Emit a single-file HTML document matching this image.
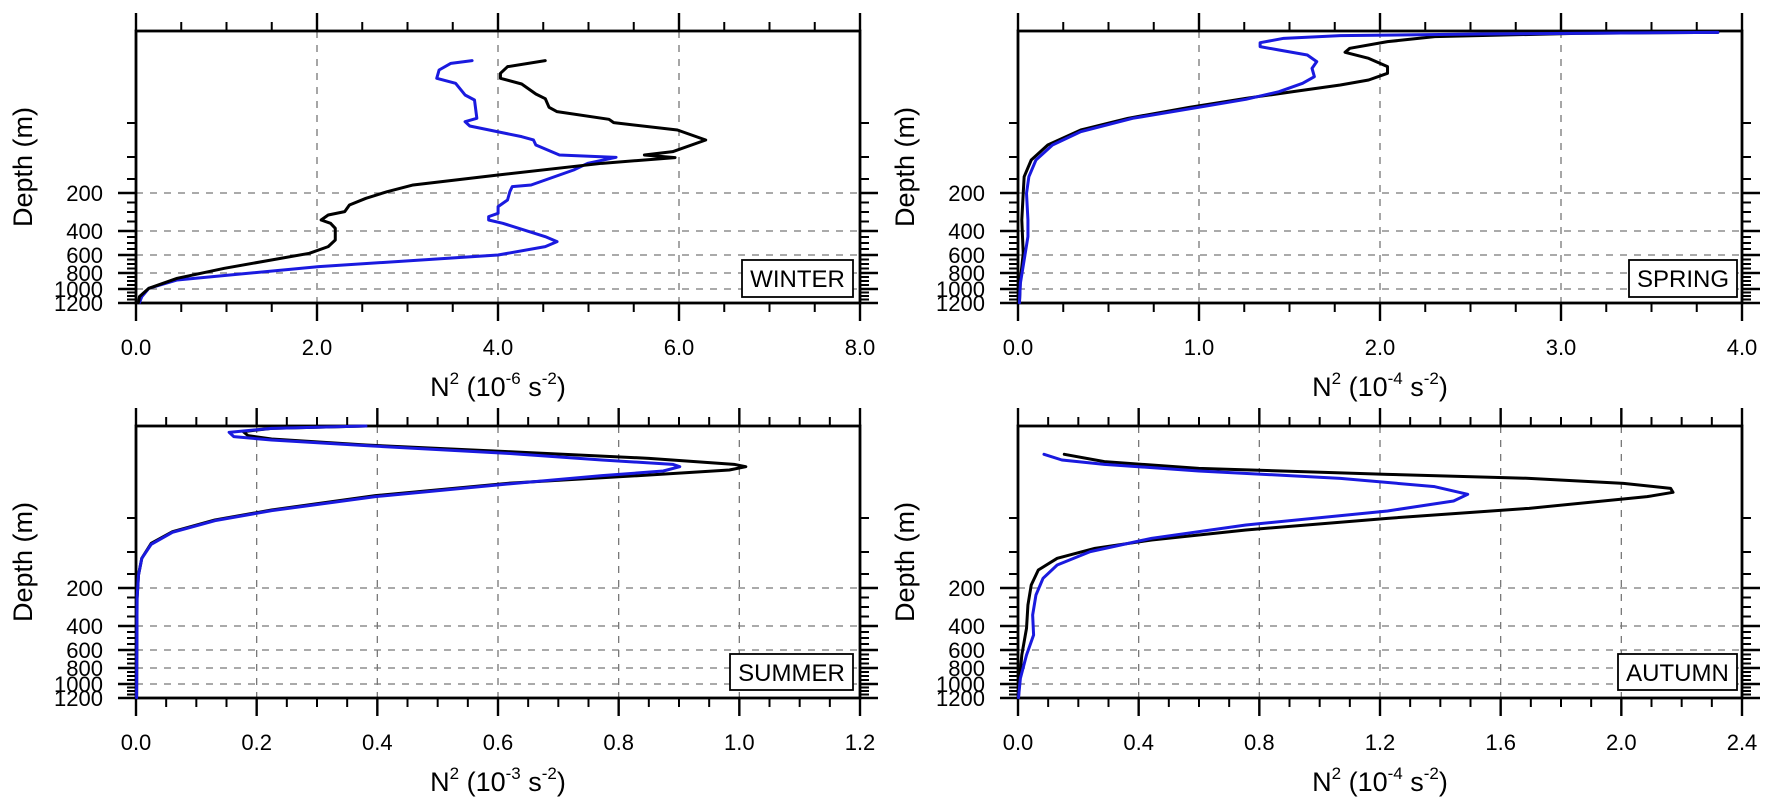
<!DOCTYPE html>
<html><head><meta charset="utf-8"><style>
html,body{margin:0;padding:0;background:#fff;}
svg{display:block;font-family:"Liberation Sans",Arial,sans-serif;}
</style></head><body>
<svg width="1772" height="804" viewBox="0 0 1772 804" xmlns="http://www.w3.org/2000/svg">
<defs>
<g id="common">
  <path d="M0 162H724M0 200H724M0 224H724M0 242H724M0 258H724" stroke="#777" stroke-width="1.3" stroke-dasharray="7,7" fill="none"/>
  <path d="M0 162h-18M0 200h-18M0 224h-18M0 242h-18M0 258h-18M0 272h-18M724 162h18M724 200h18M724 224h18M724 242h18M724 258h18M724 272h18" stroke="#000" stroke-width="2.4"/>
  <path d="M0 92h-9M0 126h-9M0 148h-9M0 171.5h-9M0 181h-9M0 190.5h-9M0 206h-9M0 212h-9M0 218h-9M0 228.5h-9M0 233h-9M0 237.5h-9M0 246h-9M0 250h-9M0 254h-9M0 261.5h-9M0 265h-9M0 268.5h-9M724 92h9M724 126h9M724 148h9M724 171.5h9M724 181h9M724 190.5h9M724 206h9M724 212h9M724 218h9M724 228.5h9M724 233h9M724 237.5h9M724 246h9M724 250h9M724 254h9M724 261.5h9M724 265h9M724 268.5h9" stroke="#000" stroke-width="2"/>
</g>
<g id="frameA">
  <path d="M181 0V272M362 0V272M543 0V272" stroke="#777" stroke-width="1.3" stroke-dasharray="7,7" fill="none"/>
  <use href="#common"/>
  <path d="M0 0v-18M181 0v-18M362 0v-18M543 0v-18M724 0v-18M0 272v18M181 272v18M362 272v18M543 272v18M724 272v18" stroke="#000" stroke-width="2.4"/>
  <path d="M45.25 0v-9M90.5 0v-9M135.75 0v-9M226.25 0v-9M271.5 0v-9M316.75 0v-9M407.25 0v-9M452.5 0v-9M497.75 0v-9M588.25 0v-9M633.5 0v-9M678.75 0v-9M45.25 272v9M90.5 272v9M135.75 272v9M226.25 272v9M271.5 272v9M316.75 272v9M407.25 272v9M452.5 272v9M497.75 272v9M588.25 272v9M633.5 272v9M678.75 272v9" stroke="#000" stroke-width="2"/>
  <rect x="0" y="0" width="724" height="272" fill="none" stroke="#000" stroke-width="2.8"/>
</g>
<g id="frameB">
  <path d="M120.67 0V272M241.33 0V272M362 0V272M482.67 0V272M603.33 0V272" stroke="#777" stroke-width="1.3" stroke-dasharray="7,7" fill="none"/>
  <use href="#common"/>
  <path d="M0 0v-18M120.67 0v-18M241.33 0v-18M362 0v-18M482.67 0v-18M603.33 0v-18M724 0v-18M0 272v18M120.67 272v18M241.33 272v18M362 272v18M482.67 272v18M603.33 272v18M724 272v18" stroke="#000" stroke-width="2.4"/>
  <path d="M30.17 0v-9M60.33 0v-9M90.5 0v-9M150.83 0v-9M181 0v-9M211.17 0v-9M271.5 0v-9M301.67 0v-9M331.83 0v-9M392.17 0v-9M422.33 0v-9M452.5 0v-9M512.83 0v-9M543 0v-9M573.17 0v-9M633.5 0v-9M663.67 0v-9M693.83 0v-9M30.17 272v9M60.33 272v9M90.5 272v9M150.83 272v9M181 272v9M211.17 272v9M271.5 272v9M301.67 272v9M331.83 272v9M392.17 272v9M422.33 272v9M452.5 272v9M512.83 272v9M543 272v9M573.17 272v9M633.5 272v9M663.67 272v9M693.83 272v9" stroke="#000" stroke-width="2"/>
  <rect x="0" y="0" width="724" height="272" fill="none" stroke="#000" stroke-width="2.8"/>
</g>
<g id="ylab" font-size="22" text-anchor="end">
  <text x="-33" y="170">200</text>
  <text x="-33" y="208">400</text>
  <text x="-33" y="232">600</text>
  <text x="-33" y="250">800</text>
  <text x="-33" y="266">1000</text>
  <text x="-33" y="280">1200</text>
  <text transform="translate(-104,136) rotate(-90)" font-size="27" text-anchor="middle">Depth (m)</text>
</g>
</defs>

<g transform="translate(136,31)"><use href="#frameA"/><use href="#ylab"/></g>
<g transform="translate(1018,31)"><use href="#frameA"/><use href="#ylab"/></g>
<g transform="translate(136,426)"><use href="#frameB"/><use href="#ylab"/></g>
<g transform="translate(1018,426)"><use href="#frameB"/><use href="#ylab"/></g>

<g font-size="22" text-anchor="middle">
  <text x="136" y="355">0.0</text><text x="317" y="355">2.0</text><text x="498" y="355">4.0</text><text x="679" y="355">6.0</text><text x="860" y="355">8.0</text>
  <text x="1018" y="355">0.0</text><text x="1199" y="355">1.0</text><text x="1380" y="355">2.0</text><text x="1561" y="355">3.0</text><text x="1742" y="355">4.0</text>
  <text x="136" y="750">0.0</text><text x="256.7" y="750">0.2</text><text x="377.3" y="750">0.4</text><text x="498" y="750">0.6</text><text x="618.7" y="750">0.8</text><text x="739.3" y="750">1.0</text><text x="860" y="750">1.2</text>
  <text x="1018" y="750">0.0</text><text x="1138.7" y="750">0.4</text><text x="1259.3" y="750">0.8</text><text x="1380" y="750">1.2</text><text x="1500.7" y="750">1.6</text><text x="1621.3" y="750">2.0</text><text x="1742" y="750">2.4</text>
</g>
<g font-size="27" text-anchor="middle">
  <text x="498" y="396">N<tspan font-size="17" dy="-12">2</tspan><tspan dy="12"> (10</tspan><tspan font-size="17" dy="-12">-6</tspan><tspan dy="12">  s</tspan><tspan font-size="17" dy="-12">-2</tspan><tspan dy="12">)</tspan></text>
  <text x="1380" y="396">N<tspan font-size="17" dy="-12">2</tspan><tspan dy="12"> (10</tspan><tspan font-size="17" dy="-12">-4</tspan><tspan dy="12">  s</tspan><tspan font-size="17" dy="-12">-2</tspan><tspan dy="12">)</tspan></text>
  <text x="498" y="791">N<tspan font-size="17" dy="-12">2</tspan><tspan dy="12"> (10</tspan><tspan font-size="17" dy="-12">-3</tspan><tspan dy="12">  s</tspan><tspan font-size="17" dy="-12">-2</tspan><tspan dy="12">)</tspan></text>
  <text x="1380" y="791">N<tspan font-size="17" dy="-12">2</tspan><tspan dy="12"> (10</tspan><tspan font-size="17" dy="-12">-4</tspan><tspan dy="12">  s</tspan><tspan font-size="17" dy="-12">-2</tspan><tspan dy="12">)</tspan></text>
</g>

<g font-size="24" text-anchor="middle">
  <rect x="742" y="260" width="111" height="37" fill="#fff" stroke="#000" stroke-width="1.8"/><text x="797.5" y="287">WINTER</text>
  <rect x="1629" y="260" width="108" height="37" fill="#fff" stroke="#000" stroke-width="1.8"/><text x="1683" y="287">SPRING</text>
  <rect x="730" y="654" width="123" height="36" fill="#fff" stroke="#000" stroke-width="1.8"/><text x="791.5" y="681">SUMMER</text>
  <rect x="1618" y="654" width="119" height="36" fill="#fff" stroke="#000" stroke-width="1.8"/><text x="1677.5" y="681">AUTUMN</text>
</g>

<g fill="none" stroke-width="3" stroke-linejoin="round" stroke-linecap="round">
<g transform="translate(130,20) scale(0.4719,0.3333)">
  <polyline vector-effect="non-scaling-stroke" stroke="#1a1adf" points="725,122 680,130 655,150 650,175 690,190 710,225 730,240 735,295 710,305 720,318 830,350 855,360 860,375 910,405 1030,412 970,430 940,450 850,495 810,500 805,515 800,540 780,560 780,580 760,590 760,600 790,610 880,650 905,665 880,680 780,705 400,740 100,780 40,805 25,830 20,848"/>
  <polyline vector-effect="non-scaling-stroke" stroke="#000" points="880,122 800,140 785,160 785,175 830,192 860,222 880,236 888,262 905,275 1015,298 1025,308 1160,330 1220,360 1150,395 1090,405 1155,413 1000,430 780,465 600,495 545,515 500,535 465,555 455,575 420,585 405,600 425,610 435,625 435,660 420,680 380,700 200,745 100,775 40,805 20,830 18,848"/>
</g>
<g transform="translate(1010,20) scale(0.4719,0.3333)">
  <polyline vector-effect="non-scaling-stroke" stroke="#000" points="1500,37 1200,40 900,50 800,65 720,85 710,97 760,115 800,140 800,160 760,180 700,195 600,215 500,235 380,262 250,295 150,330 80,375 45,420 30,470 28,520 25,600 28,700 22,780 20,848"/>
  <polyline vector-effect="non-scaling-stroke" stroke="#1a1adf" points="1500,37 1000,42 700,47 580,55 530,68 530,80 570,90 630,105 650,125 640,145 645,170 620,190 570,215 500,238 400,262 260,295 150,335 90,375 55,420 40,470 35,520 38,600 38,650 30,720 22,790 20,848"/>
</g>
<g transform="translate(130,415) scale(0.4719,0.3333)">
  <polyline vector-effect="non-scaling-stroke" stroke="#000" points="500,33 300,40 240,50 250,62 300,72 500,90 800,110 1100,130 1280,148 1305,155 1270,165 1100,180 800,205 520,242 300,285 180,315 90,350 45,385 25,430 18,480 15,550 14,848"/>
  <polyline vector-effect="non-scaling-stroke" stroke="#1a1adf" points="500,33 300,40 210,52 220,65 300,75 500,92 800,115 1000,135 1150,148 1165,155 1130,168 1000,182 800,207 520,245 300,287 180,317 90,352 45,388 25,430 18,480 15,550 14,848"/>
</g>
<g transform="translate(1010,415) scale(0.4719,0.3333)">
  <polyline vector-effect="non-scaling-stroke" stroke="#000" points="115,118 200,140 400,160 800,178 1100,190 1300,205 1400,220 1405,232 1350,245 1100,280 800,310 500,345 300,375 180,400 100,430 60,465 45,510 38,570 35,640 25,720 20,800 18,848"/>
  <polyline vector-effect="non-scaling-stroke" stroke="#1a1adf" points="72,118 110,135 200,148 400,168 700,190 900,215 970,238 940,258 800,288 500,330 300,370 170,410 100,450 70,490 55,540 48,600 50,660 35,720 22,790 18,848"/>
</g>
</g>
</svg>
</body></html>
